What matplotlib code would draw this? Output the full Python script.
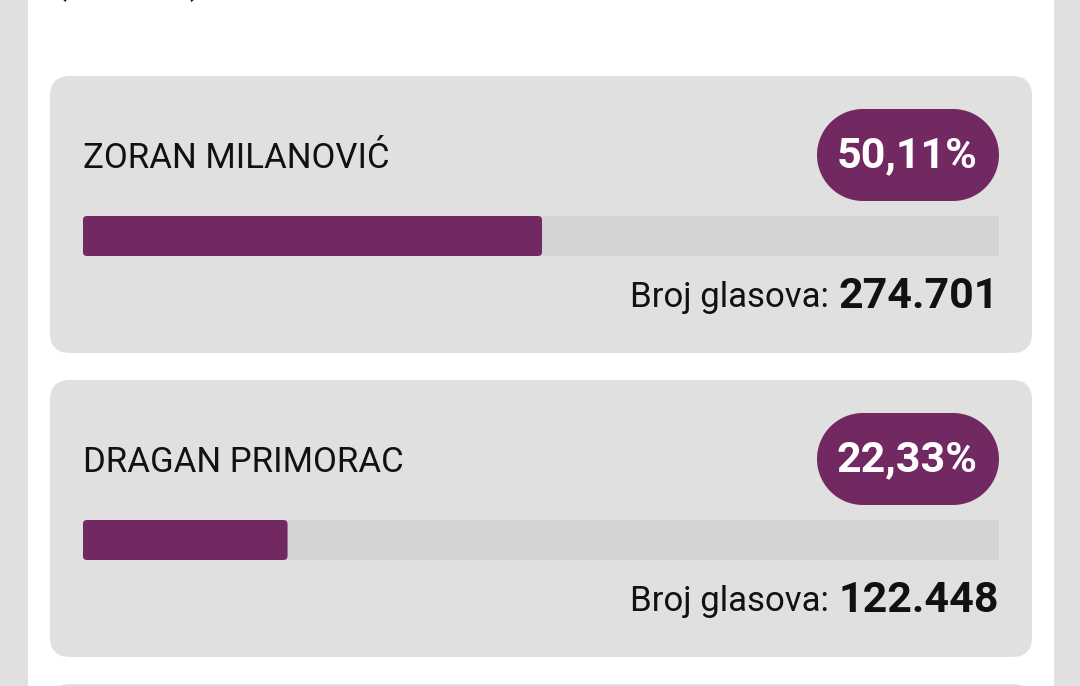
import matplotlib
matplotlib.use('Agg')
import matplotlib.pyplot as plt
from matplotlib.patches import FancyBboxPatch, Rectangle, Circle

plt.rcParams['font.family'] = ['Roboto', 'DejaVu Sans']

# candidates, share of vote (%) and number of votes
names = ['ZORAN MILANOVIĆ', 'DRAGAN PRIMORAC']
shares = [50.11, 22.33]
share_labels = ['50,11%', '22,33%']
votes = ['274.701', '122.448']
votes_label = 'Broj glasova:'

purple = '#722961'
card_gray = '#e0e0e0'
track_gray = '#d4d4d4'

W, H = 1080, 686
fig = plt.figure(figsize=(W / 100, H / 100), dpi=100)
ax = fig.add_axes([0, 0, 1, 1])
ax.set_xlim(0, W)
ax.set_ylim(H, 0)
ax.axis('off')
fig.patch.set_facecolor(card_gray)

# white page
ax.add_patch(Rectangle((28, -10), 1026, H + 20, facecolor='white', edgecolor='none'))
# header text, scrolled off the top (only descenders visible)
ax.text(53, -7, '(23,49%)', fontsize=28, va='baseline', ha='left', color='#111111')

card_x, card_w, card_h = 50, 982, 277
track_x, track_w = 83, 916
card_tops = [76, 380]

for i, top in enumerate(card_tops):
    ax.add_patch(FancyBboxPatch((card_x, top), card_w, card_h,
                                boxstyle='round,pad=0,rounding_size=20',
                                facecolor=card_gray, edgecolor='none'))
    # name
    ax.text(track_x, top + 82, names[i], fontsize=25, va='center', ha='left', color='#111111')
    # pill with percentage (stadium shape)
    r = 46
    cy = top + 33 + r
    ax.add_patch(Rectangle((817 + r, top + 33), 182 - 2 * r, 2 * r, facecolor=purple, edgecolor='none'))
    ax.add_patch(Circle((817 + r, cy), r, facecolor=purple, edgecolor='none'))
    ax.add_patch(Circle((999 - r, cy), r, facecolor=purple, edgecolor='none'))
    ax.text(907, top + 80, share_labels[i], fontsize=31, fontweight='bold',
            va='center', ha='center', color='white')
    # progress bar
    ax.add_patch(Rectangle((track_x, top + 140), track_w, 40,
                           facecolor=track_gray, edgecolor='none'))
    ax.add_patch(FancyBboxPatch((track_x, top + 140), track_w * shares[i] / 100, 40,
                                boxstyle='round,pad=0,rounding_size=4',
                                facecolor=purple, edgecolor='none'))
    # vote count
    t = ax.text(999, top + 220, votes[i], fontsize=31, fontweight='bold',
                va='center', ha='right', color='#111111')
    fig.canvas.draw()
    bb = t.get_window_extent().transformed(ax.transData.inverted())
    ax.text(bb.x0 - 10, top + 221, votes_label, fontsize=25,
            va='center', ha='right', color='#111111')

# start of next card at bottom
ax.add_patch(FancyBboxPatch((card_x, 684), card_w, 60,
                            boxstyle='round,pad=0,rounding_size=20',
                            facecolor=card_gray, edgecolor='none'))

fig.savefig('out.png', dpi=100, facecolor=fig.get_facecolor())
